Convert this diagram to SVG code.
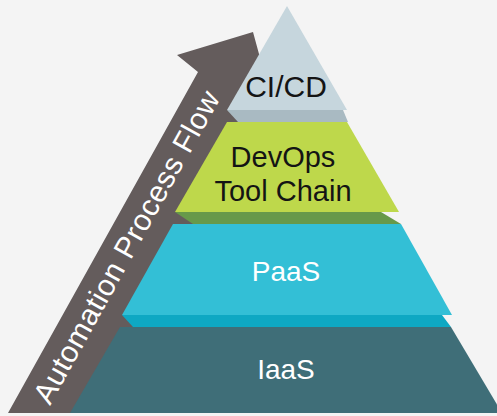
<svg xmlns="http://www.w3.org/2000/svg" width="497" height="416" viewBox="0 0 497 416">
<style>
.t{font-family:"Liberation Sans",Arial,sans-serif;text-anchor:middle}
.dk{fill:#141414}
.wh{fill:#ffffff}
</style>
<rect x="0" y="0" width="497" height="416" fill="#f4f4f4"/>
<g id="flow-arrow">
<polygon points="253,32 274,109 262,120 110,413 8,413 198,72 177,55" fill="#645c5c"/>
<text class="t wh" style="text-anchor:start" font-size="30" textLength="352" lengthAdjust="spacing" transform="translate(50,406) rotate(-61)">Automation Process Flow</text>
</g>
<g id="tier-iaas">
<polygon points="120,327 451,327 502,413 70,413" fill="#3f6e78"/>
<text class="t wh" x="286" y="379" font-size="28">IaaS</text>
</g>
<g id="tier-paas">
<polygon points="122,315 442,315 451,327 133,327" fill="#0ea8c3"/>
<polygon points="173,224 401,224 452,315 122,315" fill="#33bfd6"/>
<text class="t wh" x="286" y="281" font-size="28">PaaS</text>
</g>
<g id="tier-devops">
<polygon points="175,212 381,212 401,224 193,224" fill="#67994a"/>
<polygon points="227,122 347,122 399,212 175,212" fill="#bed84b"/>
<text class="t dk" x="283" y="167" font-size="29">DevOps</text>
<text class="t dk" x="283" y="201" font-size="29">Tool Chain</text>
</g>
<g id="tier-cicd">
<polygon points="227,110 343,110 348,122 238,122" fill="#a9bac2"/>
<polygon points="287,6 347,110 227,110" fill="#c6d6dd"/>
<text class="t dk" x="286" y="97" font-size="30">CI/CD</text>
</g>
</svg>
